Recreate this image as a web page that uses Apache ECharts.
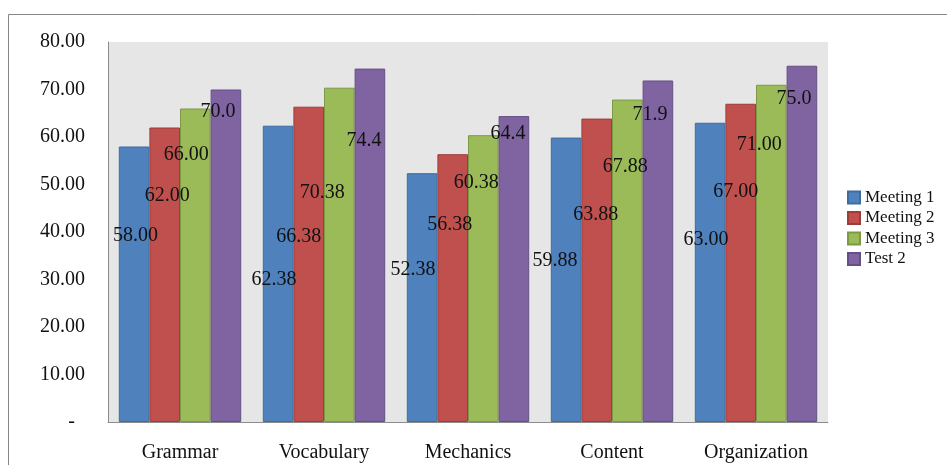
<!DOCTYPE html>
<html>
<head>
<meta charset="utf-8">
<script src="https://cdn.jsdelivr.net/npm/echarts@6/dist/echarts.min.js"></script>
<style>
  html, body { margin: 0; padding: 0; background: #ffffff; }
  #chart { width: 947px; height: 465px; }
</style>
</head>
<body>
<div id="chart"></div>
<script>
// Writing-skill scores per aspect across three meetings and the second test
const categories = ['Grammar', 'Vocabulary', 'Mechanics', 'Content', 'Organization'];
const seriesNames = ['Meeting 1', 'Meeting 2', 'Meeting 3', 'Test 2'];
const meeting1 = [58.00, 62.38, 52.38, 59.88, 63.00];
const meeting2 = [62.00, 66.38, 56.38, 63.88, 67.00];
const meeting3 = [66.00, 70.38, 60.38, 67.88, 71.00];
const test2 = [70.0, 74.4, 64.4, 71.9, 75.0];
const yTicks = [0, 10, 20, 30, 40, 50, 60, 70, 80];

// Decimal places shown in each series' value labels
const labelDecimals = [2, 2, 2, 1];

// Label placement: [dx, dy] in px from the top-centre of each bar
const labelShift = [
  [[1.5, 89], [-4, 154], [-9, 97], [-11, 123], [-4, 117]],
  [[2.5, 68], [-10, 130], [-3, 71], [-1, 96], [-5, 88]],
  [[-9, 46], [-17, 105], [-7, 48], [-2, 67], [-12, 60]],
  [[-8, 22], [-6, 72], [-6, 18], [-8, 34], [-8, 33]]
];

const fills = ['#4F81BD', '#C0504D', '#9BBB59', '#8064A2'];
const edges = ['#3D6C9F', '#9C3D3A', '#7C9A45', '#654F84'];
const serif = '"Liberation Serif", "Times New Roman", serif';

const allValues = [meeting1, meeting2, meeting3, test2];

const series = allValues.map((vals, s) => ({
  name: seriesNames[s],
  type: 'bar',
  barGap: '0%',
  barCategoryGap: '15%',
  itemStyle: { color: fills[s], borderColor: edges[s], borderWidth: 1 },
  label: {
    show: true,
    position: ['50%', 0],
    align: 'center',
    verticalAlign: 'middle',
    fontFamily: serif,
    fontSize: 20,
    color: '#111111',
    formatter: p => p.value.toFixed(labelDecimals[s])
  },
  data: vals.map((v, i) => ({ value: v, label: { offset: labelShift[s][i] } }))
}));

const chart = echarts.init(document.getElementById('chart'), null, { renderer: 'canvas' });
chart.setOption({
  backgroundColor: '#ffffff',
  animation: false,
  graphic: [{
    type: 'rect',
    shape: { x: 8.5, y: 14.5, width: 1000, height: 1000 },
    style: { fill: 'none', stroke: '#868686', lineWidth: 1 },
    silent: true,
    z: -1
  }],
  grid: {
    left: 108, top: 42, right: 119, bottom: 43,
    show: true, backgroundColor: '#E6E6E6', borderWidth: 0
  },
  legend: {
    orient: 'vertical',
    left: 842,
    top: 184,
    itemWidth: 12,
    itemHeight: 12,
    itemGap: 3.5,
    icon: 'rect',
    textStyle: { fontFamily: serif, fontSize: 17, color: '#111111', lineHeight: 17 },
    data: seriesNames
  },
  xAxis: {
    type: 'category',
    data: categories,
    axisLine: { show: true, lineStyle: { color: '#8C8C8C', width: 1 } },
    axisTick: { show: false },
    axisLabel: { fontFamily: serif, fontSize: 20, color: '#111111', margin: 21 },
    splitLine: { show: false }
  },
  yAxis: {
    type: 'value',
    min: yTicks[0],
    max: yTicks[yTicks.length - 1],
    interval: yTicks[1] - yTicks[0],
    axisLine: { show: true, lineStyle: { color: '#8C8C8C', width: 1 } },
    axisTick: { show: false },
    splitLine: { show: false },
    axisLabel: {
      fontFamily: serif, fontSize: 20, color: '#111111', margin: 23,
      formatter: v => (v === 0 ? '-  ' : v.toFixed(2))
    }
  },
  series: series
});
</script>
</body>
</html>
